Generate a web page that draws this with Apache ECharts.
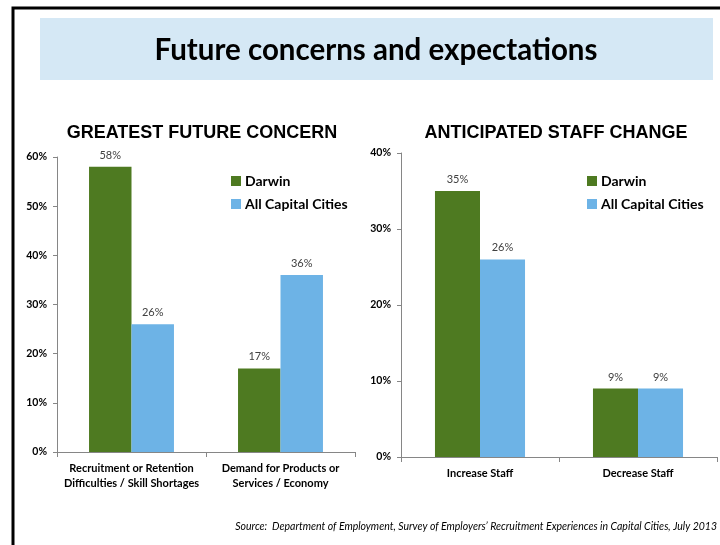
<!DOCTYPE html>
<html>
<head>
<meta charset="utf-8">
<script src="https://cdn.jsdelivr.net/npm/echarts@6/dist/echarts.min.js"></script>
<style>
  html, body { margin: 0; padding: 0; background: #fff; }
  #chart { width: 720px; height: 545px; }
</style>
</head>
<body>
<div id="chart"></div>
<script>
  // data
  const concernCats = ['Recruitment or Retention\nDifficulties / Skill Shortages', 'Demand for Products or\nServices / Economy'];
  const concernDarwin = [58, 17];
  const concernCapitals = [26, 36];

  const staffCats = ['Increase Staff', 'Decrease Staff'];
  const staffDarwin = [35, 9];
  const staffCapitals = [26, 9];

  const seriesNames = ['Darwin', 'All Capital Cities'];
  const green = '#4e7a21';
  const blue = '#6db3e6';
  const calibri = 'Lato, "Open Sans", sans-serif';
  const arial = '"Liberation Sans", Arial, sans-serif';

  const myChart = echarts.init(document.getElementById('chart'));

  const barLabel = {
    show: true,
    position: 'top',
    formatter: '{c}%',
    color: '#404040',
    fontSize: 11,
    fontFamily: calibri,
    distance: 6
  };

  const yAxisCommon = {
    type: 'value',
    min: 0,
    interval: 10,
    axisLine: {show: true, lineStyle: {color: '#868686'}},
    axisTick: {show: true, length: 4, lineStyle: {color: '#868686'}},
    splitLine: {show: false},
    axisLabel: {formatter: '{value}%', fontWeight: 'bold', fontSize: 10.5, color: '#000', fontFamily: calibri, margin: 10}
  };

  const xAxisCommon = {
    type: 'category',
    axisLine: {lineStyle: {color: '#868686'}},
    axisTick: {show: true, length: 5, lineStyle: {color: '#868686'}},
    axisLabel: {fontWeight: 'bold', fontSize: 11, color: '#000', fontFamily: calibri, lineHeight: 15, margin: 9, interval: 0}
  };

  const legendCommon = {
    orient: 'vertical',
    itemWidth: 10,
    itemHeight: 10,
    itemGap: 9,
    icon: 'rect',
    textStyle: {fontWeight: 'bold', fontSize: 14, color: '#000', fontFamily: calibri, padding: [0, 0, 0, -1]},
    data: seriesNames
  };

  const option = {
    animation: false,
    title: [
      {text: 'GREATEST FUTURE CONCERN', left: 197, top: 119, textAlign: 'center',
        textStyle: {fontSize: 18, fontWeight: 'bold', fontFamily: arial, color: '#000'}},
      {text: 'ANTICIPATED STAFF CHANGE', left: 551, top: 119, textAlign: 'center',
        textStyle: {fontSize: 18, fontWeight: 'bold', fontFamily: arial, color: '#000'}}
    ],
    legend: [
      Object.assign({left: 226, top: 169}, legendCommon),
      Object.assign({left: 582, top: 169}, legendCommon)
    ],
    grid: [
      {left: 57, right: 365, top: 157, bottom: 93},
      {left: 401, right: 3, top: 153, bottom: 88}
    ],
    xAxis: [
      Object.assign({gridIndex: 0, data: concernCats}, xAxisCommon),
      Object.assign({gridIndex: 1, data: staffCats}, xAxisCommon)
    ],
    yAxis: [
      Object.assign({gridIndex: 0, max: 60}, yAxisCommon),
      Object.assign({gridIndex: 1, max: 40}, yAxisCommon)
    ],
    series: [
      {name: 'Darwin', type: 'bar', xAxisIndex: 0, yAxisIndex: 0, data: concernDarwin,
        itemStyle: {color: green}, barGap: '0%', barCategoryGap: '43%', label: barLabel},
      {name: 'All Capital Cities', type: 'bar', xAxisIndex: 0, yAxisIndex: 0, data: concernCapitals,
        itemStyle: {color: blue}, barGap: '0%', barCategoryGap: '43%', label: barLabel},
      {name: 'Darwin', type: 'bar', xAxisIndex: 1, yAxisIndex: 1, data: staffDarwin,
        itemStyle: {color: green}, barGap: '0%', barCategoryGap: '43%', label: barLabel},
      {name: 'All Capital Cities', type: 'bar', xAxisIndex: 1, yAxisIndex: 1, data: staffCapitals,
        itemStyle: {color: blue}, barGap: '0%', barCategoryGap: '43%', label: barLabel}
    ],
    graphic: [
      // frame (left and top edges only show in the crop)
      {type: 'polyline', z: 10, shape: {points: [[13, 545], [13, 8], [720, 8]]},
        style: {stroke: '#000', lineWidth: 3, fill: null}},
      {type: 'rect', shape: {x: 40, y: 18, width: 673, height: 62}, style: {fill: '#d5e8f5'}},
      {type: 'text', x: 376, y: 50, style: {
        text: 'Future concerns and expectations', fontSize: 29.5, fontWeight: 'bold',
        fontFamily: calibri, fill: '#000', align: 'center', verticalAlign: 'middle'}},
      {type: 'text', right: 3, top: 521, style: {
        text: 'Source:  Department of Employment, Survey of Employers\u2019 Recruitment Experiences in Capital Cities, July 2013',
        fontSize: 10.5, fontStyle: 'italic', fontFamily: calibri, fill: '#000'}}
    ]
  };

  myChart.setOption(option);
</script>
</body>
</html>
